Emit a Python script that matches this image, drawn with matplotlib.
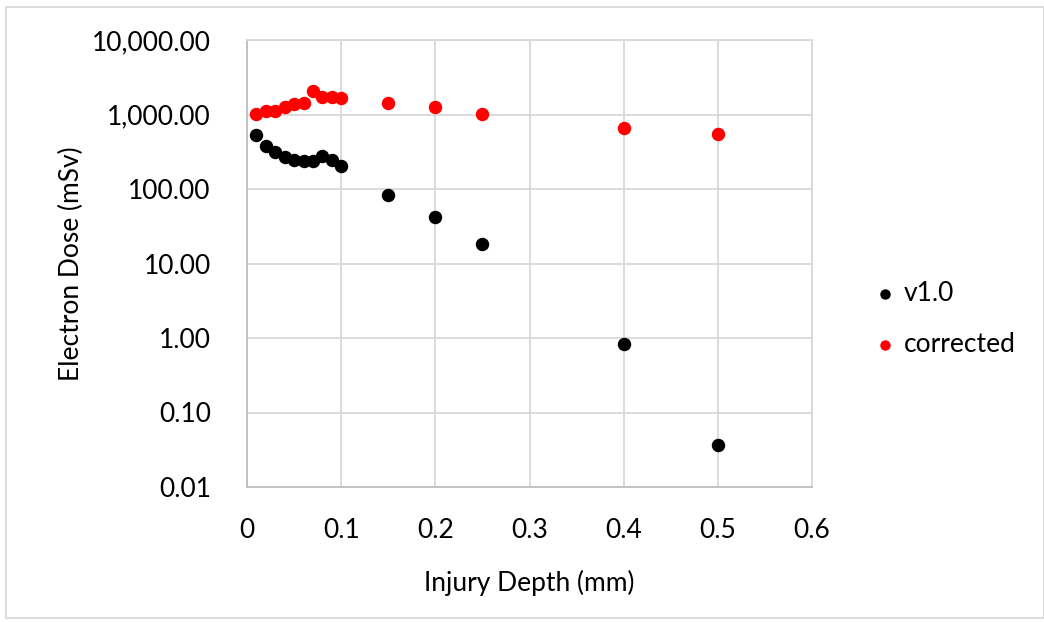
import matplotlib.pyplot as plt
import matplotlib.ticker as mticker
from matplotlib.patches import Rectangle

# Injury depth (mm) and electron dose (mSv) for each model version
depth = [0.01, 0.02, 0.03, 0.04, 0.05, 0.06, 0.07, 0.08, 0.09, 0.1,
         0.15, 0.2, 0.25, 0.4, 0.5]
dose_v10 = [530, 380, 315, 266, 245, 240, 240, 277, 245, 204,
            83, 42, 18, 0.83, 0.037]
dose_corrected = [1020, 1100, 1120, 1270, 1380, 1410, 2090, 1700, 1730, 1650,
                  1410, 1250, 1030, 660, 548]

x_ticks = [0, 0.1, 0.2, 0.3, 0.4, 0.5, 0.6]
y_ticks = [0.01, 0.1, 1, 10, 100, 1000, 10000]

grid_col = '#d9d9d9'
plt.rcParams['font.family'] = ['Lato', 'DejaVu Sans']
fs = 19

fig = plt.figure(figsize=(10.44, 6.22), dpi=100)
ax = fig.add_axes([247 / 1044, 1 - 487 / 622, (812 - 247) / 1044, (487 - 40) / 622])

ax.scatter(depth, dose_v10, s=75, color='black', label='v1.0', zorder=3)
ax.scatter(depth, dose_corrected, s=75, color='#ff0000', label='corrected', zorder=3)

ax.set_yscale('log')
ax.set_xlim(0, 0.6)
ax.set_ylim(0.01, 10000)
ax.set_xticks(x_ticks)
ax.set_yticks(y_ticks)
ax.yaxis.set_minor_locator(mticker.NullLocator())
ax.xaxis.set_major_formatter(mticker.FuncFormatter(lambda v, p: '0' if v == 0 else f'{v:g}'))
ax.yaxis.set_major_formatter(mticker.FuncFormatter(lambda v, p: f'{v:,.2f}'))
ax.tick_params(axis='y', length=0, labelsize=fs, colors='black', pad=26)
ax.tick_params(axis='x', length=0, labelsize=fs, colors='black', pad=22)

ax.grid(True, color=grid_col, linewidth=1.3)
ax.set_axisbelow(True)
for s in ax.spines.values():
    s.set_color(grid_col)
    s.set_linewidth(1.3)
ax.spines['left'].set_color('#bfbfbf')
ax.spines['bottom'].set_color('#bfbfbf')

ax.set_xlabel('Injury Depth (mm)', fontsize=fs, color='black', labelpad=20)
ax.set_ylabel('Electron Dose (mSv)', fontsize=fs, color='black', labelpad=6)

leg = fig.legend(loc='center left', bbox_to_anchor=(0.838, 0.487), frameon=False,
                 fontsize=fs, handlelength=0.8, handletextpad=0.3, labelspacing=1.0,
                 markerscale=0.75, borderaxespad=0, borderpad=0)

# light frame around the chart area
fig.patches.append(Rectangle((6 / 1044, 4 / 622), 1 - 6 / 1044, 1 - 11 / 622,
                             transform=fig.transFigure, fill=False,
                             edgecolor=grid_col, linewidth=1.3))

fig.savefig('out.png', dpi=100)
